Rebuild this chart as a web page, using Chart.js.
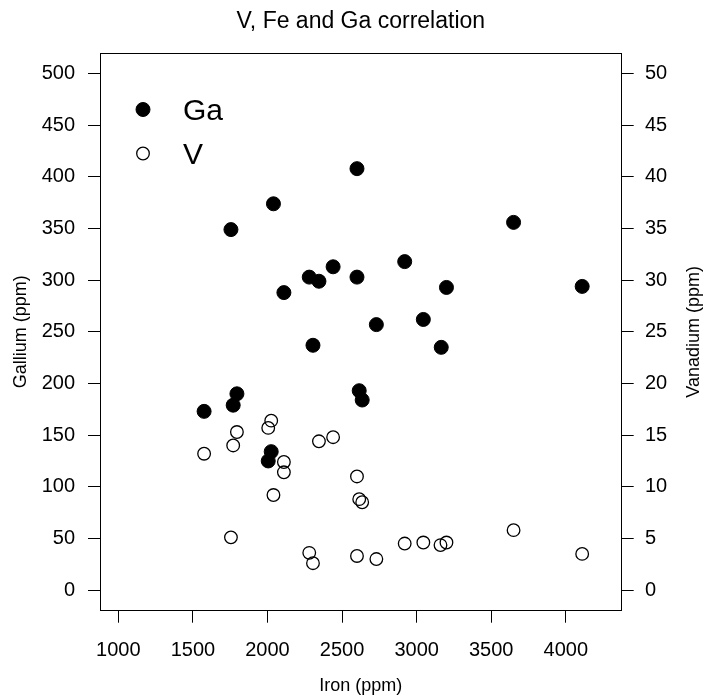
<!DOCTYPE html>
<html>
<head>
<meta charset="utf-8">
<title>V, Fe and Ga correlation</title>
<script src="https://cdn.jsdelivr.net/npm/chart.js@4.4.1/dist/chart.umd.min.js"></script>
<style>
  html, body { margin: 0; padding: 0; background: #fff; }
  canvas { display: block; }
</style>
</head>
<body>
<canvas id="chart" width="707" height="698"></canvas>
<script>
// Ga samples (filled circles)
const ironGa = [1575, 1755, 1770, 1795, 2005, 2025, 2040, 2110, 2280, 2305, 2345, 2440,
                2600, 2600, 2615, 2635, 2730, 2920, 3045, 3165, 3200, 3650, 4110];
const gallium = [173, 349, 179, 190, 125, 134, 374, 288, 303, 237, 299, 313,
                 408, 303, 193, 184, 257, 318, 262, 235, 293, 356, 294];

// V samples (open circles)
const ironV = [1575, 1755, 1770, 1795, 2005, 2025, 2040, 2110, 2110, 2280, 2305, 2345, 2440,
               2600, 2600, 2615, 2635, 2730, 2920, 3045, 3160, 3200, 3650, 4110];
const vanadium = [13.2, 5.1, 14.0, 15.3, 15.7, 16.4, 9.2, 12.4, 11.4, 3.6, 2.6, 14.4, 14.8,
                  11.0, 3.3, 8.8, 8.5, 3.0, 4.5, 4.6, 4.35, 4.6, 5.8, 3.5];

const ironTicks = [1000, 1500, 2000, 2500, 3000, 3500, 4000];
const galliumTicks = [0, 50, 100, 150, 200, 250, 300, 350, 400, 450, 500];
const vanadiumTicks = [0, 5, 10, 15, 20, 25, 30, 35, 40, 45, 50];

const FONT = '"Liberation Sans", Arial, Helvetica, sans-serif';
Chart.defaults.font.family = FONT;
Chart.defaults.color = '#000';

const toPoints = (xs, ys) => xs.map((x, i) => ({ x: x, y: ys[i] }));
const fixTicks = (list) => (scale) => { scale.ticks = list.map(v => ({ value: v })); };

// box around the plot, main title, right axis title (reads upwards) and the inset legend
const framePlugin = {
  id: 'frame',
  afterDraw(chart, args, opts) {
    const { ctx, chartArea: a } = chart;
    ctx.save();
    ctx.strokeStyle = '#000';
    ctx.lineWidth = 1;
    const l = Math.round(a.left) + 0.5, r = Math.round(a.right) - 0.5;
    const t = Math.round(a.top) + 0.5, b = Math.round(a.bottom) - 0.5;
    ctx.strokeRect(l, t, r - l, b - t);

    ctx.fillStyle = '#000';
    ctx.font = '23px ' + FONT;
    ctx.textAlign = 'center';
    ctx.textBaseline = 'middle';
    ctx.fillText(opts.title, (a.left + a.right) / 2, opts.titleY);

    ctx.save();
    ctx.font = '18px ' + FONT;
    ctx.translate(opts.rightTitleX, (a.top + a.bottom) / 2);
    ctx.rotate(-Math.PI / 2);
    ctx.fillText(opts.rightTitle, 0, 0);
    ctx.restore();

    ctx.font = '30px ' + FONT;
    ctx.textAlign = 'left';
    chart.data.datasets.forEach((ds, i) => {
      const y = a.top + opts.legendY[i];
      ctx.beginPath();
      ctx.arc(a.left + opts.markerX, y, ds.pointRadius, 0, Math.PI * 2);
      ctx.fillStyle = ds.backgroundColor;
      ctx.fill();
      ctx.lineWidth = ds.borderWidth;
      ctx.strokeStyle = ds.borderColor;
      ctx.stroke();
      ctx.fillStyle = '#000';
      ctx.fillText(ds.label, a.left + opts.textX, y + 2);
    });
    ctx.restore();
  }
};

const tickGrid = { display: true, drawOnChartArea: false, drawTicks: true, tickLength: 12, color: '#000', lineWidth: 1 };

new Chart(document.getElementById('chart'), {
  type: 'scatter',
  data: {
    datasets: [
      {
        label: 'Ga',
        data: toPoints(ironGa, gallium),
        yAxisID: 'yGa',
        pointRadius: 7,
        backgroundColor: '#000',
        borderColor: '#000',
        borderWidth: 1
      },
      {
        label: 'V',
        data: toPoints(ironV, vanadium),
        yAxisID: 'yV',
        pointRadius: 6.3,
        backgroundColor: 'rgba(255,255,255,0)',
        borderColor: '#000',
        borderWidth: 1.3
      }
    ]
  },
  options: {
    responsive: false,
    animation: false,
    layout: { padding: { top: 53, left: 0, right: 0, bottom: 0 } },
    plugins: {
      legend: { display: false },
      tooltip: { enabled: false },
      frame: {
        title: 'V, Fe and Ga correlation',
        titleY: 22,
        rightTitle: 'Vanadium (ppm)',
        rightTitleX: 694,
        markerX: 43,
        textX: 83,
        legendY: [56.5, 100.5]
      }
    },
    scales: {
      x: {
        type: 'linear',
        min: 877,
        max: 4375,
        afterBuildTicks: fixTicks(ironTicks),
        afterFit: (s) => { s.height = 87.3; },
        grid: tickGrid,
        border: { display: false },
        ticks: { font: { size: 20 }, padding: 16, maxRotation: 0, callback: (v) => String(v) },
        title: { display: true, text: 'Iron (ppm)', font: { size: 18 }, padding: 0.7 }
      },
      yGa: {
        type: 'linear',
        position: 'left',
        min: -20,
        max: 520,
        afterBuildTicks: fixTicks(galliumTicks),
        afterFit: (s) => { s.width = 100; },
        grid: tickGrid,
        border: { display: false },
        ticks: { font: { size: 20 }, padding: 13, callback: (v) => String(v) },
        title: { display: true, text: 'Gallium (ppm)', font: { size: 18 }, padding: 10 }
      },
      yV: {
        type: 'linear',
        position: 'right',
        min: -2,
        max: 52,
        afterBuildTicks: fixTicks(vanadiumTicks),
        afterFit: (s) => { s.width = 85.3; },
        grid: tickGrid,
        border: { display: false },
        ticks: { font: { size: 20 }, padding: 11.3, callback: (v) => String(v) }
      }
    }
  },
  plugins: [framePlugin]
});
</script>
</body>
</html>
